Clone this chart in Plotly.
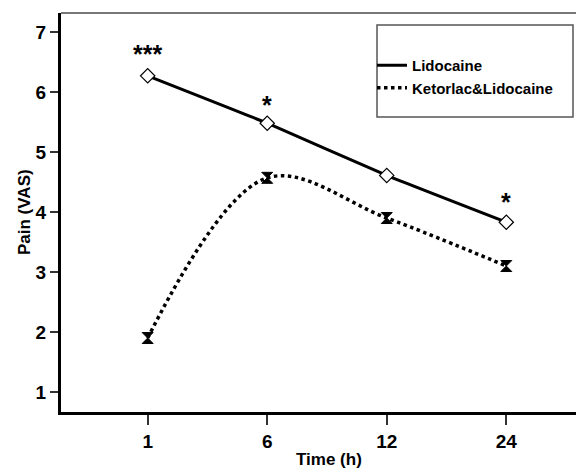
import plotly.graph_objects as go

time_labels = ["1", "6", "12", "24"]
lidocaine = [6.27, 5.48, 4.61, 3.83]
ketorlac = [1.90, 4.57, 3.90, 3.10]
sig_labels = ["***", "*", "", "*"]
sig_y = [6.64, 5.78, None, 4.17]

x_idx = list(range(len(time_labels)))
FONT = "Liberation Sans, Arial, sans-serif"

# page body has an 8px margin, so the figure is 8px smaller than the window
W, H = 584 - 8, 473 - 8
L, T, B = 53, 5, 61
PW, PH = W - L, H - T - B


def px(sx):
    return (sx - 8 - L) / PW


def py(sy):
    return (T + PH - (sy - 8)) / PH


fig = go.Figure()
fig.add_trace(go.Scatter(
    x=x_idx, y=lidocaine, name="<b>Lidocaine</b>", mode="lines",
    line=dict(color="black", width=3, shape="spline", smoothing=0.4),
))
fig.add_trace(go.Scatter(
    x=x_idx, y=ketorlac, name="<b>Ketorlac&Lidocaine</b>", mode="lines",
    line=dict(color="black", width=3.5, dash="dot", shape="spline", smoothing=1.0),
))
fig.add_trace(go.Scatter(
    x=x_idx, y=lidocaine, mode="markers", showlegend=False,
    marker=dict(symbol="diamond", size=11, color="white", line=dict(color="black", width=1.2)),
))
fig.add_trace(go.Scatter(
    x=x_idx, y=ketorlac, mode="markers", showlegend=False,
    marker=dict(symbol="hourglass", size=11, color="black", line=dict(color="black", width=1)),
))

for xi, lab, yy in zip(x_idx, sig_labels, sig_y):
    if lab:
        fig.add_annotation(x=xi, y=yy, text=f"<b>{lab}</b>", showarrow=False,
                           font=dict(family=FONT, size=25, color="black"), yanchor="middle")

fig.add_annotation(xref="paper", yref="paper", x=px(24), y=py(212), text="<b>Pain (VAS)</b>",
                   textangle=-90, showarrow=False, xanchor="center", yanchor="middle",
                   font=dict(family=FONT, size=17, color="black"))
fig.add_annotation(xref="paper", yref="paper", x=px(329), y=py(471), text="<b>Time (h)</b>",
                   showarrow=False, xanchor="center", yanchor="bottom",
                   font=dict(family=FONT, size=17, color="black"))

fig.add_shape(type="rect", xref="paper", yref="paper",
              x0=px(377), x1=px(573), y0=py(117), y1=py(25),
              line=dict(color="#555555", width=1.5), fillcolor="rgba(0,0,0,0)")
fig.add_shape(type="line", xref="paper", yref="paper", x0=0, x1=1, y0=1, y1=1,
              line=dict(color="#777777", width=2))

fig.update_layout(
    width=W, height=H,
    margin=dict(l=L, r=0, t=T, b=B, autoexpand=False),
    paper_bgcolor="white", plot_bgcolor="white",
    font=dict(family=FONT, color="black"),
    showlegend=True,
    legend=dict(x=px(372), y=py(49), xanchor="left", yanchor="top",
                bgcolor="rgba(0,0,0,0)", borderwidth=0,
                font=dict(family=FONT, size=15, color="black"),
                itemwidth=30, tracegroupgap=0),
    xaxis=dict(
        tickmode="array", tickvals=x_idx, ticktext=[f"<b>{t}</b>" for t in time_labels],
        range=[-0.725, 3.65], showgrid=False, zeroline=False, automargin=False,
        showline=True, linecolor="black", linewidth=3,
        ticks="outside", ticklen=10, tickwidth=1.5, tickcolor="#333333",
        tickfont=dict(family=FONT, size=19, color="black"),
    ),
    yaxis=dict(
        tickmode="array", tickvals=[1, 2, 3, 4, 5, 6, 7],
        ticktext=[f"<b>{v}</b>" for v in [1, 2, 3, 4, 5, 6, 7]],
        range=[0.667, 7.317], showgrid=False, zeroline=False, automargin=False,
        showline=True, linecolor="black", linewidth=3,
        ticks="outside", ticklen=8, tickwidth=1.5, tickcolor="#333333",
        tickfont=dict(family=FONT, size=19, color="black"),
    ),
)

fig.write_html("out.html")
